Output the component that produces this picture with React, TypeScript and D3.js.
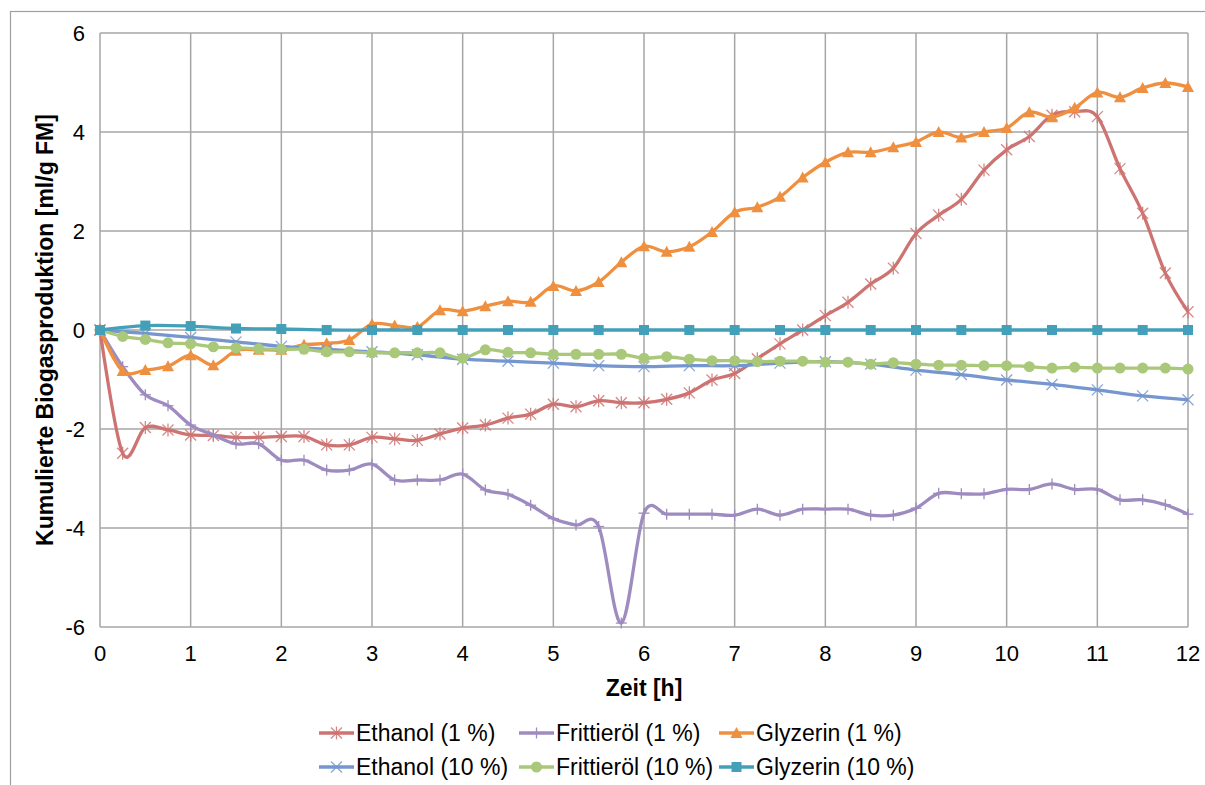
import React from 'react';
import * as d3 from 'd3';

const width = 1205;
const height = 785;
const margin = { top: 33, right: 17, bottom: 158, left: 100 };

// time axis, sampled every 15 min / every 30 min
const timeQuarter = [
  0, 0.25, 0.5, 0.75, 1, 1.25, 1.5, 1.75, 2, 2.25, 2.5, 2.75, 3, 3.25, 3.5, 3.75, 4,
  4.25, 4.5, 4.75, 5, 5.25, 5.5, 5.75, 6, 6.25, 6.5, 6.75, 7, 7.25, 7.5, 7.75, 8,
  8.25, 8.5, 8.75, 9, 9.25, 9.5, 9.75, 10, 10.25, 10.5, 10.75, 11, 11.25, 11.5, 11.75, 12
];
const timeHalf = [
  0, 0.5, 1, 1.5, 2, 2.5, 3, 3.5, 4, 4.5, 5, 5.5, 6, 6.5, 7, 7.5, 8, 8.5, 9, 9.5, 10,
  10.5, 11, 11.5, 12
];

const ethanol1 = [
  0, -2.49, -1.97, -2.02, -2.12, -2.13, -2.17, -2.17, -2.15, -2.15, -2.32, -2.32, -2.17,
  -2.2, -2.23, -2.1, -1.98, -1.92, -1.78, -1.7, -1.5, -1.55, -1.43, -1.47, -1.47,
  -1.4, -1.27, -1.01, -0.88, -0.58, -0.28, 0.0, 0.29, 0.56, 0.93, 1.25, 1.95,
  2.32, 2.64, 3.23, 3.64, 3.91, 4.34, 4.41, 4.31, 3.26, 2.36, 1.15, 0.37
];
const frittieroel1 = [
  0, -0.74, -1.31, -1.53, -1.92, -2.12, -2.3, -2.3, -2.63, -2.63, -2.83, -2.83, -2.71,
  -3.03, -3.03, -3.03, -2.91, -3.23, -3.32, -3.54, -3.81, -3.94, -3.97, -5.92, -3.7,
  -3.72, -3.72, -3.72, -3.74, -3.62, -3.74, -3.62, -3.62, -3.62, -3.74, -3.74, -3.6,
  -3.3, -3.31, -3.31, -3.22, -3.22, -3.11, -3.22, -3.22, -3.43, -3.43, -3.53, -3.72
];
const glyzerin1 = [
  0, -0.83, -0.81, -0.73, -0.51, -0.71, -0.42, -0.4, -0.4, -0.3, -0.27, -0.2, 0.12,
  0.09, 0.06, 0.4, 0.38, 0.48, 0.58, 0.57, 0.89, 0.79, 0.97, 1.37, 1.69,
  1.58, 1.68, 1.98, 2.38, 2.48, 2.69, 3.08, 3.39, 3.59, 3.59, 3.69, 3.8,
  4.0, 3.89, 4.0, 4.08, 4.4, 4.3, 4.49, 4.8, 4.7, 4.89, 4.99, 4.91
];
const ethanol10 = [
  0, -0.07, -0.15, -0.24, -0.33, -0.39, -0.44, -0.5, -0.59, -0.63, -0.67, -0.72, -0.74,
  -0.72, -0.72, -0.67, -0.64, -0.69, -0.81, -0.9, -1.01, -1.1, -1.21, -1.33, -1.41
];
const frittieroel10 = [
  0, -0.13, -0.19, -0.26, -0.28, -0.34, -0.36, -0.38, -0.39, -0.39, -0.44, -0.44, -0.46,
  -0.46, -0.46, -0.46, -0.57, -0.4, -0.45, -0.46, -0.49, -0.49, -0.49, -0.49, -0.57,
  -0.54, -0.59, -0.62, -0.62, -0.64, -0.63, -0.63, -0.65, -0.65, -0.69, -0.66, -0.69,
  -0.71, -0.71, -0.72, -0.72, -0.74, -0.77, -0.75, -0.77, -0.77, -0.77, -0.77, -0.79
];
const glyzerin10 = [
  0, 0.09, 0.08, 0.03, 0.02, 0, 0, 0, 0, 0, 0, 0, 0, 0, 0, 0, 0, 0, 0, 0, 0, 0, 0, 0, 0
];

const xTicks = [0, 1, 2, 3, 4, 5, 6, 7, 8, 9, 10, 11, 12];
const yTicks = [-6, -4, -2, 0, 2, 4, 6];

const series = [
  { name: 'Ethanol (1 %)', t: timeQuarter, v: ethanol1, color: '#cd7472', marker: 'star' },
  { name: 'Frittieröl (1 %)', t: timeQuarter, v: frittieroel1, color: '#9e8bbf', marker: 'plus' },
  { name: 'Glyzerin (1 %)', t: timeQuarter, v: glyzerin1, color: '#ef9040', marker: 'triangle' },
  { name: 'Ethanol (10 %)', t: timeHalf, v: ethanol10, color: '#7596cf', marker: 'cross' },
  { name: 'Frittieröl (10 %)', t: timeQuarter, v: frittieroel10, color: '#a9c879', marker: 'circle' },
  { name: 'Glyzerin (10 %)', t: timeHalf, v: glyzerin10, color: '#44a0b8', marker: 'square' }
];

const font = '"Liberation Sans", Arial, sans-serif';
const gridColor = '#a6a6a6';

function Marker({ type, x, y, color }: { type: string; x: number; y: number; color: string }) {
  const s = 5.5;
  switch (type) {
    case 'star':
      return (
        <g stroke={color} strokeWidth={1.3} opacity={0.85}>
          <line x1={x - s} y1={y - s} x2={x + s} y2={y + s} />
          <line x1={x - s} y1={y + s} x2={x + s} y2={y - s} />
          <line x1={x} y1={y - s - 1} x2={x} y2={y + s + 1} />
        </g>
      );
    case 'plus':
      return (
        <g stroke={color} strokeWidth={1.3}>
          <line x1={x} y1={y - s} x2={x} y2={y + s} />
          <line x1={x - s} y1={y} x2={x + s} y2={y} />
        </g>
      );
    case 'cross':
      return (
        <g stroke={color} strokeWidth={1.3} opacity={0.85}>
          <line x1={x - s} y1={y - s} x2={x + s} y2={y + s} />
          <line x1={x - s} y1={y + s} x2={x + s} y2={y - s} />
        </g>
      );
    case 'triangle':
      return <path d={`M${x},${y - 6} L${x + 6},${y + 5} L${x - 6},${y + 5} Z`} fill={color} />;
    case 'circle':
      return <circle cx={x} cy={y} r={5.5} fill={color} />;
    case 'square':
      return <rect x={x - 5} y={y - 5} width={10} height={10} fill={color} />;
    default:
      return null;
  }
}

export default function App() {
  const x = d3.scaleLinear().domain([0, 12]).range([margin.left, width - margin.right]);
  const y = d3.scaleLinear().domain([-6, 6]).range([height - margin.bottom, margin.top]);

  const line = d3
    .line<[number, number]>()
    .x((d) => x(d[0]))
    .y((d) => y(d[1]))
    .curve(d3.curveCardinal.tension(0));

  const legendX = [319, 519, 719];
  const legendY = [733, 767];

  return (
    <svg
      width={width}
      height={height}
      style={{ position: 'absolute', left: 0, top: 0, background: '#fff' }}
      fontFamily={font}
    >
      <rect x={10.5} y={11.5} width={1300} height={900} fill="#fff" stroke="#a0a0a0" strokeWidth={1.2} />

      {/* grid */}
      {xTicks.map((t) => (
        <line key={'gx' + t} x1={x(t)} x2={x(t)} y1={y(6)} y2={y(-6)} stroke={gridColor} strokeWidth={1.5} />
      ))}
      {yTicks.map((t) => (
        <line key={'gy' + t} x1={x(0)} x2={x(12)} y1={y(t)} y2={y(t)} stroke={gridColor} strokeWidth={1.5} />
      ))}

      {/* tick labels */}
      {yTicks.map((t) => (
        <text key={'ty' + t} x={x(0) - 15} y={y(t)} dy="0.36em" textAnchor="end" fontSize={22} fill="#000">
          {t}
        </text>
      ))}
      {xTicks.map((t) => (
        <text key={'tx' + t} x={x(t)} y={y(-6) + 34} textAnchor="middle" fontSize={22} fill="#000">
          {t}
        </text>
      ))}

      {/* axis titles */}
      <text x={(x(0) + x(12)) / 2} y={y(-6) + 69} textAnchor="middle" fontSize={23} fontWeight="bold">
        Zeit [h]
      </text>
      <text
        transform={`translate(${53},${(y(6) + y(-6)) / 2}) rotate(-90)`}
        textAnchor="middle"
        fontSize={23}
        fontWeight="bold"
      >
        Kumulierte Biogasproduktion [ml/g FM]
      </text>

      {/* series */}
      {series.map((s) => {
        const pts = s.t.map((t, i) => [t, s.v[i]] as [number, number]);
        return (
          <g key={s.name}>
            <path d={line(pts) || ''} fill="none" stroke={s.color} strokeWidth={3.3} strokeLinejoin="round" />
            {pts.map((p, i) => (
              <Marker key={i} type={s.marker} x={x(p[0])} y={y(p[1])} color={s.color} />
            ))}
          </g>
        );
      })}

      {/* legend */}
      {series.map((s, i) => {
        const lx = legendX[i % 3];
        const ly = legendY[Math.floor(i / 3)];
        return (
          <g key={'lg' + s.name}>
            <line x1={lx} x2={lx + 35} y1={ly} y2={ly} stroke={s.color} strokeWidth={3.3} />
            <Marker type={s.marker} x={lx + 17.5} y={ly} color={s.color} />
            <text x={lx + 37} y={ly} dy="0.36em" fontSize={23} fill="#000">
              {s.name}
            </text>
          </g>
        );
      })}
    </svg>
  );
}
